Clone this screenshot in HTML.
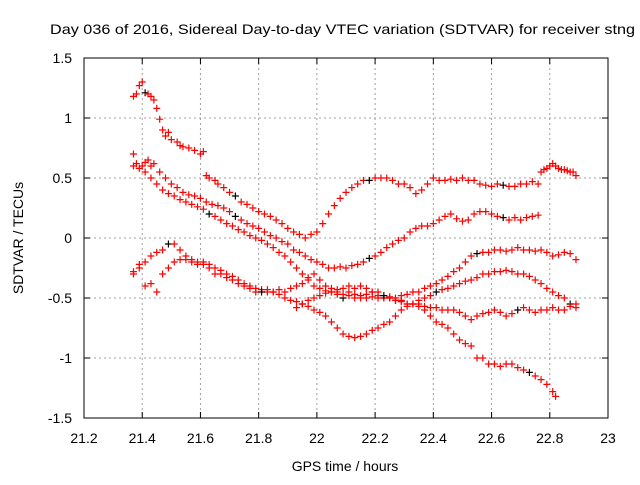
<!DOCTYPE html>
<html><head><meta charset="utf-8"><style>
body{margin:0;background:#fff;width:640px;height:480px;overflow:hidden}
svg text{font-family:"Liberation Sans",sans-serif;fill:#000}
</style></head><body>
<svg width="640" height="480">
<text x="50" y="34" font-size="14" textLength="585" lengthAdjust="spacingAndGlyphs">Day 036 of 2016, Sidereal Day-to-day VTEC variation (SDTVAR) for receiver stng</text>
<text x="345" y="471" font-size="14" text-anchor="middle">GPS time / hours</text>
<text transform="translate(23,238) rotate(-90)" font-size="14" text-anchor="middle">SDTVAR / TECUs</text>
<g id="grid"></g><g id="axes"></g><g id="marks"></g>
<rect x="84" y="58" width="524" height="360" fill="none" stroke="#000"/>
</svg>
<script>
const xTicks=[21.2,21.4,21.6,21.8,22,22.2,22.4,22.6,22.8,23];
const yTicks=[-1.5,-1,-0.5,0,0.5,1,1.5];
const t1x=[21.37,21.38,21.39,21.4,21.41,21.42,21.43,21.44,21.45,21.46,21.47,21.48,21.49,21.5,21.52,21.53,21.54,21.56,21.58,21.6,21.61,21.62,21.63,21.65,21.66,21.68,21.7,21.72,21.74,21.76,21.78,21.8,21.82,21.84,21.86,21.88,21.9,21.92,21.94,21.96,21.98,22,22.02,22.04,22.06,22.08,22.1,22.12,22.14,22.16,22.18,22.2,22.22,22.24,22.26,22.28,22.3,22.32,22.34,22.36,22.38,22.4,22.42,22.44,22.46,22.48,22.5,22.52,22.54,22.56,22.58,22.6,22.62,22.64,22.66,22.68,22.7,22.72,22.74,22.76,22.77,22.78,22.79,22.8,22.81,22.82,22.83,22.84,22.85,22.86,22.87,22.88,22.89];
const t1y=[1.18,1.2,1.27,1.3,1.21,1.2,1.18,1.15,1.08,0.99,0.9,0.85,0.88,0.82,0.8,0.77,0.76,0.75,0.73,0.7,0.72,0.52,0.5,0.48,0.45,0.42,0.38,0.35,0.3,0.28,0.25,0.22,0.2,0.18,0.15,0.12,0.08,0.05,0.03,0,0.03,0.05,0.12,0.2,0.27,0.33,0.38,0.42,0.45,0.48,0.48,0.5,0.5,0.5,0.48,0.45,0.45,0.42,0.37,0.4,0.45,0.5,0.48,0.48,0.49,0.48,0.5,0.48,0.48,0.45,0.44,0.43,0.45,0.44,0.43,0.43,0.45,0.45,0.47,0.45,0.55,0.57,0.58,0.6,0.62,0.6,0.58,0.57,0.57,0.56,0.55,0.55,0.52];
const t2x=[21.37,21.38,21.4,21.41,21.42,21.43,21.44,21.46,21.48,21.5,21.52,21.54,21.56,21.58,21.6,21.62,21.64,21.66,21.68,21.7,21.72,21.74,21.76,21.78,21.8,21.82,21.84,21.86,21.88,21.9,21.92,21.94,21.96,21.98,22,22.02,22.04,22.06,22.08,22.1,22.12,22.14,22.16,22.18,22.2,22.22,22.24,22.26,22.28,22.3,22.32,22.34,22.36,22.38,22.4,22.42,22.44,22.46,22.48,22.5,22.52,22.54,22.56,22.58,22.6,22.62,22.64,22.66,22.68,22.7,22.72,22.74,22.76];
const t2y=[0.7,0.62,0.6,0.63,0.65,0.6,0.62,0.55,0.5,0.45,0.42,0.38,0.36,0.35,0.33,0.3,0.28,0.27,0.25,0.22,0.18,0.15,0.12,0.1,0.08,0.05,0.02,0,-0.03,-0.05,-0.1,-0.12,-0.15,-0.18,-0.2,-0.22,-0.25,-0.25,-0.24,-0.25,-0.23,-0.22,-0.2,-0.17,-0.15,-0.12,-0.08,-0.05,-0.02,0,0.05,0.08,0.1,0.1,0.12,0.15,0.18,0.2,0.16,0.14,0.15,0.2,0.22,0.22,0.2,0.18,0.17,0.15,0.17,0.15,0.17,0.18,0.19];
const t3x=[21.37,21.39,21.41,21.43,21.45,21.47,21.49,21.51,21.53,21.55,21.57,21.59,21.61,21.63,21.65,21.67,21.69,21.71,21.73,21.75,21.77,21.79,21.81,21.83,21.85,21.87,21.89,21.91,21.93,21.95,21.97,21.99,22.01,22.03,22.05,22.07,22.09,22.11,22.13,22.15,22.17,22.19,22.21,22.23,22.25,22.27,22.29,22.31,22.33,22.35,22.37,22.39,22.41,22.43,22.45,22.47,22.49,22.51,22.53,22.55,22.57,22.59,22.61,22.63,22.65,22.67,22.69,22.71,22.73,22.75,22.77,22.79,22.81,22.83,22.85,22.87,22.89];
const t3y=[0.6,0.58,0.55,0.5,0.45,0.4,0.37,0.35,0.32,0.3,0.28,0.26,0.24,0.2,0.18,0.15,0.12,0.1,0.07,0.05,0.02,0,-0.02,-0.05,-0.08,-0.12,-0.15,-0.2,-0.25,-0.3,-0.35,-0.4,-0.42,-0.44,-0.45,-0.47,-0.5,-0.48,-0.47,-0.48,-0.5,-0.49,-0.5,-0.5,-0.49,-0.5,-0.48,-0.47,-0.45,-0.45,-0.42,-0.4,-0.38,-0.35,-0.32,-0.28,-0.25,-0.2,-0.15,-0.13,-0.12,-0.12,-0.1,-0.1,-0.11,-0.1,-0.08,-0.1,-0.1,-0.11,-0.1,-0.12,-0.15,-0.14,-0.12,-0.13,-0.18];
const t4x=[21.37,21.39,21.41,21.43,21.45,21.47,21.49,21.51,21.53,21.55,21.57,21.59,21.61,21.63,21.65,21.67,21.69,21.71,21.73,21.75,21.77,21.79,21.81,21.83,21.85,21.87,21.89,21.91,21.93,21.95,21.97,21.99,22.01,22.03,22.05,22.07,22.09,22.11,22.13,22.15,22.17,22.19,22.21,22.23,22.25,22.27,22.29,22.31,22.33,22.35,22.37,22.39,22.41,22.43,22.45,22.47,22.49,22.51,22.53,22.55,22.57,22.59,22.61,22.63,22.65,22.67,22.69,22.71,22.73,22.75,22.77,22.79,22.81,22.83,22.85,22.87,22.89];
const t4y=[-0.28,-0.22,-0.2,-0.15,-0.12,-0.1,-0.05,-0.05,-0.1,-0.15,-0.18,-0.2,-0.2,-0.22,-0.25,-0.27,-0.3,-0.32,-0.35,-0.38,-0.4,-0.42,-0.43,-0.45,-0.45,-0.47,-0.5,-0.52,-0.53,-0.55,-0.57,-0.6,-0.62,-0.65,-0.7,-0.75,-0.8,-0.82,-0.83,-0.82,-0.8,-0.77,-0.75,-0.72,-0.7,-0.65,-0.6,-0.57,-0.55,-0.52,-0.5,-0.48,-0.45,-0.43,-0.42,-0.4,-0.38,-0.36,-0.35,-0.33,-0.3,-0.3,-0.28,-0.28,-0.27,-0.28,-0.3,-0.3,-0.32,-0.35,-0.38,-0.42,-0.45,-0.48,-0.5,-0.55,-0.58];
const t5x=[21.37,21.39,21.41,21.43,21.45,21.47,21.49,21.51,21.53,21.55,21.57,21.59,21.61,21.63,21.65,21.67,21.69,21.71,21.73,21.75,21.77,21.79,21.81,21.83,21.85,21.87,21.89,21.91,21.93,21.95,21.97,21.99,22.01,22.03,22.05,22.07,22.09,22.11,22.13,22.15,22.17,22.19,22.21,22.23,22.25,22.27,22.29,22.31,22.33,22.35,22.37,22.39,22.41,22.43,22.45,22.47,22.49,22.51,22.53,22.55,22.57,22.59,22.61,22.63,22.65,22.67,22.69,22.71,22.73,22.75,22.77,22.79,22.81,22.82];
const t5y=[-0.3,-0.25,-0.4,-0.38,-0.45,-0.3,-0.25,-0.2,-0.18,-0.18,-0.2,-0.22,-0.22,-0.25,-0.3,-0.3,-0.33,-0.35,-0.38,-0.4,-0.42,-0.45,-0.45,-0.43,-0.45,-0.43,-0.45,-0.42,-0.4,-0.38,-0.33,-0.3,-0.35,-0.4,-0.42,-0.45,-0.47,-0.45,-0.5,-0.5,-0.47,-0.45,-0.48,-0.5,-0.5,-0.52,-0.52,-0.55,-0.55,-0.57,-0.6,-0.65,-0.7,-0.72,-0.75,-0.8,-0.85,-0.88,-0.9,-1,-1.0,-1.05,-1.05,-1.07,-1.05,-1.05,-1.08,-1.1,-1.12,-1.15,-1.18,-1.22,-1.28,-1.32];
const t6x=[21.93,21.95,21.97,21.99,22.01,22.03,22.05,22.07,22.09,22.11,22.13,22.15,22.17,22.19,22.21,22.23,22.25,22.27,22.29,22.31,22.33,22.35,22.37,22.39,22.41,22.43,22.45,22.47,22.49,22.51,22.53,22.55,22.57,22.59,22.61,22.63,22.65,22.67,22.69,22.71,22.73,22.75,22.77,22.79,22.81,22.83,22.85,22.87,22.89];
const t6y=[-0.58,-0.55,-0.52,-0.5,-0.48,-0.46,-0.45,-0.43,-0.42,-0.4,-0.42,-0.4,-0.42,-0.45,-0.45,-0.48,-0.5,-0.52,-0.53,-0.55,-0.55,-0.55,-0.57,-0.58,-0.58,-0.6,-0.6,-0.6,-0.62,-0.65,-0.68,-0.65,-0.63,-0.62,-0.6,-0.62,-0.65,-0.63,-0.6,-0.58,-0.6,-0.62,-0.6,-0.6,-0.58,-0.6,-0.6,-0.57,-0.55];
const NS='http://www.w3.org/2000/svg';
const X=v=>84+(v-21.2)/1.8*524, Y=v=>238-v*120;
function mk(tag,at,parent){const e=document.createElementNS(NS,tag);for(const k in at)e.setAttribute(k,at[k]);parent.appendChild(e);return e;}
const grid=document.getElementById('grid'),axes=document.getElementById('axes'),marks=document.getElementById('marks');
xTicks.forEach((t,i)=>{
 if(i>0&&i<xTicks.length-1){const g=mk('line',{x1:X(t),x2:X(t),y1:58,y2:418,stroke:'#a0a0a0','stroke-dasharray':'2,3'},grid);
 
 }
 mk('line',{x1:X(t),x2:X(t),y1:418,y2:412,stroke:'#000'},axes);
 mk('line',{x1:X(t),x2:X(t),y1:58,y2:64,stroke:'#000'},axes);
 const l=mk('text',{x:X(t),y:443,'font-size':14,'text-anchor':'middle'},axes);l.textContent=t.toString();
 
 
});
yTicks.forEach((t,i)=>{
 if(i>0&&i<yTicks.length-1){const g=mk('line',{x1:84,x2:608,y1:Y(t),y2:Y(t),stroke:'#a0a0a0','stroke-dasharray':'2,3'},grid);
 
 }
 mk('line',{x1:84,x2:90,y1:Y(t),y2:Y(t),stroke:'#000'},axes);
 mk('line',{x1:608,x2:602,y1:Y(t),y2:Y(t),stroke:'#000'},axes);
 const l=mk('text',{x:72,y:Y(t)+5,'font-size':14,'text-anchor':'end'},axes);l.textContent=t.toString();
 
 
});
[[t1x,t1y],[t2x,t2y],[t3x,t3y],[t4x,t4y],[t5x,t5y],[t6x,t6y]].forEach((s,si)=>{
 s[0].forEach((xv,i)=>{
  const px=X(xv),py=Y(s[1][i]);const c=(i*7+si*3)%23===5?'#000':'#f00';
  const p=mk('path',{d:`M${px-3.5} ${py}H${px+3.5}M${px} ${py-3.5}V${py+3.5}`,stroke:c,'stroke-width':1.2},marks);
  
  
 });
});
</script>
</body></html>
